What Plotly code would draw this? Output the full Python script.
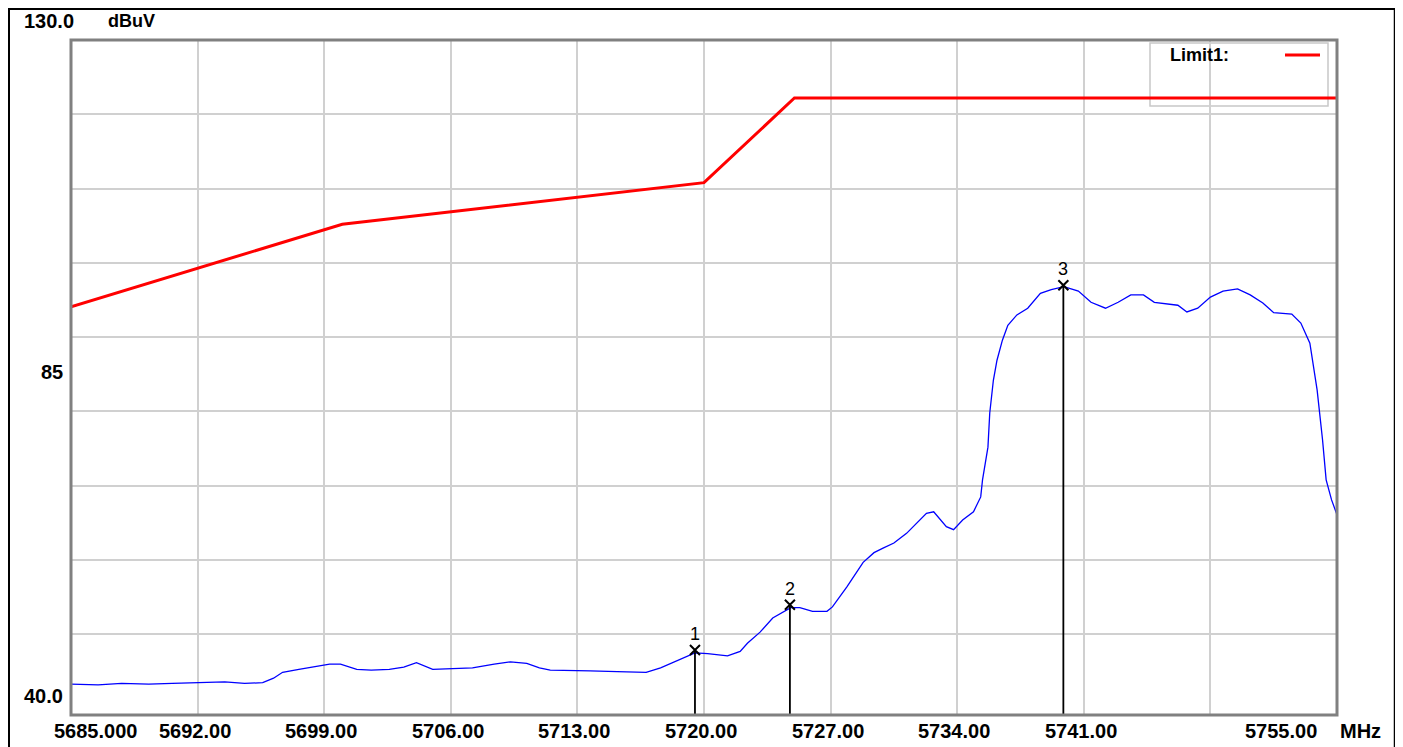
import plotly.graph_objects as go

# ---------------- data ----------------
x_ticks = [5685, 5692, 5699, 5706, 5713, 5720, 5727, 5734, 5741, 5748, 5755]
x_tick_labels = ["5685.000", "5692.00", "5699.00", "5706.00", "5713.00", "5720.00",
                 "5727.00", "5734.00", "5741.00", "", "5755.00"]
y_grid = [50, 60, 70, 80, 90, 100, 110, 120]
y_top, y_mid, y_bot_label = 130.0, 85, 40.0
y_bottom = 39.15

limit_freq = [5685, 5700, 5720, 5725, 5755]
limit_level = [94.1, 105.2, 110.8, 122.2, 122.2]

trace_freq = [5685.0, 5686.5, 5687.8, 5689.3, 5690.6, 5692.1, 5693.5, 5694.6, 5695.6, 5696.2,
              5696.7, 5697.6, 5698.6, 5699.3, 5699.9, 5700.8, 5701.6, 5702.6, 5703.4, 5704.1,
              5705.0, 5706.0, 5707.2, 5708.4, 5709.3, 5710.2, 5710.9, 5711.5, 5712.6, 5713.7,
              5715.2, 5716.8, 5717.6, 5718.7, 5719.5, 5720.2, 5721.3, 5722.0, 5722.4, 5723.1,
              5723.8, 5724.8, 5725.3, 5726.0, 5726.8, 5727.1, 5727.9, 5728.8, 5729.4, 5729.9,
              5730.5, 5731.2, 5731.8, 5732.3, 5732.7, 5733.1, 5733.4, 5733.8, 5734.3, 5734.9,
              5735.3, 5735.4, 5735.7, 5735.8, 5736.0, 5736.2, 5736.5, 5736.8, 5737.3, 5737.9,
              5738.6, 5739.2, 5739.9, 5740.7, 5741.4, 5742.2, 5742.9, 5743.6, 5744.3, 5744.9,
              5746.2, 5746.7, 5747.3, 5748.0, 5748.7, 5749.5, 5750.2, 5750.9, 5751.5, 5752.5,
              5753.0, 5753.5, 5753.9, 5754.2, 5754.4, 5754.7, 5755.0]
trace_level = [43.3, 43.2, 43.4, 43.3, 43.4, 43.5, 43.6, 43.4, 43.5, 44.1,
               44.9, 45.3, 45.7, 46.0, 46.0, 45.3, 45.2, 45.3, 45.6, 46.2,
               45.3, 45.4, 45.5, 46.0, 46.3, 46.1, 45.5, 45.2, 45.1, 45.1,
               45.0, 44.9, 45.5, 46.6, 47.5, 47.4, 47.1, 47.7, 48.8, 50.3,
               52.2, 53.6, 53.6, 53.1, 53.1, 53.7, 56.4, 59.7, 61.0, 61.6,
               62.3, 63.6, 65.1, 66.3, 66.5, 65.4, 64.5, 64.1, 65.4, 66.5,
               68.5, 70.8, 75.2, 79.8, 84.2, 86.9, 89.6, 91.6, 93.0, 93.9,
               95.9, 96.4, 96.8, 96.2, 94.7, 93.9, 94.7, 95.7, 95.7, 94.7,
               94.3, 93.4, 93.9, 95.4, 96.2, 96.5, 95.7, 94.6, 93.3, 93.1,
               91.9, 89.2, 82.9, 76.2, 70.8, 68.1, 66.1]

marker_freq = [5719.5, 5724.75, 5739.87]
marker_level = [47.9, 54.0, 97.0]
marker_names = ["1", "2", "3"]

legend_text = "Limit1:"
x_unit = "MHz"
y_unit = "dBuV"

# ---------------- figure ----------------
FONT = "Liberation Sans, Arial, sans-serif"
fig = go.Figure()

fig.add_trace(go.Scatter(x=limit_freq, y=limit_level, mode="lines",
                         line=dict(color="#ff0000", width=3), hoverinfo="skip"))
fig.add_trace(go.Scatter(x=trace_freq, y=trace_level, mode="lines",
                         line=dict(color="#0000ff", width=1.3), hoverinfo="skip"))

for f, lv in zip(marker_freq, marker_level):
    fig.add_trace(go.Scatter(x=[f, f], y=[lv, y_bottom], mode="lines",
                             line=dict(color="#000000", width=1.8), hoverinfo="skip"))
fig.add_trace(go.Scatter(x=marker_freq, y=marker_level, mode="markers",
                         marker=dict(symbol="x-thin", size=10, color="#000000",
                                     line=dict(color="#000000", width=2)),
                         hoverinfo="skip"))

annotations = []
for f, lv, name in zip(marker_freq, marker_level, marker_names):
    annotations.append(dict(x=f, y=lv, xref="x", yref="y", text=name, showarrow=False,
                            yanchor="middle", xanchor="center", yshift=16,
                            font=dict(family=FONT, size=18, color="#000000")))

TICKFONT = dict(family=FONT, size=20, color="#000000", weight="bold")
for i, (f, lab) in enumerate(zip(x_ticks, x_tick_labels)):
    if not lab:
        continue
    if i == 0:
        xa, xs = "left", -19
    elif i == len(x_ticks) - 1:
        xa, xs = "right", -18
    else:
        xa, xs = "center", -3
    annotations.append(dict(x=f, y=0, xref="x", yref="paper", text=lab, showarrow=False,
                            xanchor=xa, yanchor="middle", xshift=xs, yshift=-15.5,
                            font=TICKFONT))
annotations.append(dict(x=x_ticks[-1], y=0, xref="x", yref="paper", text=x_unit, showarrow=False,
                        xanchor="left", yanchor="middle", xshift=1, yshift=-15.5,
                        font=TICKFONT))

annotations.append(dict(x=0, y=1, xref="paper", yref="paper", text=f"{y_top:.1f}", showarrow=False,
                        xanchor="left", yanchor="middle", xshift=-49, yshift=19.5,
                        font=TICKFONT))
annotations.append(dict(x=0, y=1, xref="paper", yref="paper", text=y_unit, showarrow=False,
                        xanchor="left", yanchor="middle", xshift=35, yshift=19.5,
                        font=dict(family=FONT, size=18, color="#000000", weight="bold")))
annotations.append(dict(x=0, y=y_mid, xref="paper", yref="y", text=f"{y_mid}", showarrow=False,
                        xanchor="right", yanchor="middle", xshift=-6, yshift=2,
                        font=TICKFONT))
annotations.append(dict(x=0, y=y_bot_label, xref="paper", yref="y", text=f"{y_bot_label:.1f}",
                        showarrow=False, xanchor="right", yanchor="middle", xshift=-6, yshift=13,
                        font=TICKFONT))

# page has an 8px body margin: figure origin is at page (8, 8)
OFF = 8
W, H = 1403 - OFF, 747 - OFF
L, R, T, B = 71 - OFF, 66, 40 - OFF, 32
pw, ph = W - L - R, H - T - B

def px(xp):
    return (xp - OFF - L) / pw

def py(yp):
    return 1 - (yp - OFF - T) / ph

annotations.append(dict(x=px(1168), y=py(55), xref="paper", yref="paper", text=legend_text,
                        showarrow=False, xanchor="left", yanchor="middle",
                        font=dict(family=FONT, size=18, color="#000000", weight="bold")))

shapes = [
    # legend box
    dict(type="rect", xref="paper", yref="paper", x0=px(1150), x1=px(1328), y0=py(106), y1=py(43),
         line=dict(color="#c8c8c8", width=1.5), fillcolor="#ffffff", layer="between"),
    dict(type="line", xref="paper", yref="paper", x0=px(1285), x1=px(1320), y0=py(55), y1=py(55),
         line=dict(color="#ff0000", width=3), layer="above"),
    # plot border
    dict(type="rect", xref="paper", yref="paper", x0=0, x1=1, y0=0, y1=1,
         line=dict(color="#808080", width=3), layer="above"),
    # outer black frame
    dict(type="line", xref="paper", yref="paper", x0=px(8), x1=px(8), y0=py(8), y1=py(760),
         line=dict(color="#000000", width=4), layer="above"),
    dict(type="line", xref="paper", yref="paper", x0=px(8), x1=px(1396), y0=py(8), y1=py(8),
         line=dict(color="#000000", width=4), layer="above"),
    dict(type="line", xref="paper", yref="paper", x0=px(1395), x1=px(1395), y0=py(8), y1=py(760),
         line=dict(color="#000000", width=2.5), layer="above"),
]

fig.update_layout(
    width=W, height=H, autosize=False,
    margin=dict(l=L, r=R, t=T, b=B, pad=0),
    paper_bgcolor="#ffffff", plot_bgcolor="#ffffff",
    showlegend=False,
    annotations=annotations, shapes=shapes,
    xaxis=dict(range=[x_ticks[0], x_ticks[-1]], tickvals=x_ticks[1:-1], showticklabels=False,
               showgrid=True, gridcolor="#d0d0d0", gridwidth=1.5, zeroline=False,
               showline=False, ticks="", fixedrange=True),
    yaxis=dict(range=[y_bottom, y_top], tickvals=y_grid, showticklabels=False,
               showgrid=True, gridcolor="#d0d0d0", gridwidth=1.5, zeroline=False,
               showline=False, ticks="", fixedrange=True),
)

fig.write_html("out.html")
